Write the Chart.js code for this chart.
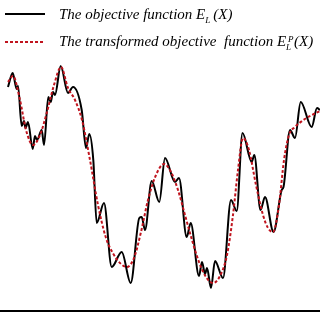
<!DOCTYPE html>
<html>
<head>
<meta charset="utf-8">
<script src="https://cdn.jsdelivr.net/npm/chart.js@4.4.1/dist/chart.umd.min.js"></script>
<style>
html,body{margin:0;padding:0;background:#fff;}
#wrap{position:relative;width:320px;height:320px;overflow:hidden;background:#fff;}
#c{position:absolute;left:0;top:0;}
.leg{position:absolute;left:59px;font-family:"Liberation Serif","DejaVu Serif",serif;font-style:italic;font-size:15px;line-height:1;white-space:nowrap;color:#000;}
.sw{position:absolute;left:5px;width:40px;}
.ss{display:inline-block;vertical-align:middle;position:relative;width:8px;height:1em;font-size:10px;}
.ss .lo{position:absolute;left:0;bottom:-4px;font-size:9px;}
.ss .hi{position:absolute;left:2px;top:-3px;font-size:9px;}
</style>
</head>
<body>
<div id="wrap">
<canvas id="c" width="320" height="320"></canvas>
<div class="sw" style="top:13px;height:2px;background:#000;"></div>
<div class="sw" style="top:41px;height:2px;background:repeating-linear-gradient(90deg,#c0141e 0 3px,transparent 3px 5px);"></div>
<div class="leg" id="l1" style="top:7px;">The objective function E<span class="ss"><span class="lo">L</span></span>(X)</div>
<div class="leg" id="l2" style="top:34px;">The transformed objective&nbsp; function E<span class="ss"><span class="hi">P</span><span class="lo">L</span></span>(X)</div>
</div>
<script>
// Objective function E_L(X): positions along X and values
const objectiveX = [8,12.7,16.7,18,21.7,24,25.5,28,32.7,35,37,41.7,44,48.3,50.7,53,55,60.7,68,73,81.7,86,89.3,93.3,96.7,104,111.7,121.7,130.7,139.3,141.7,145,151.7,159.3,165,175,179,186.7,190.7,199,202,205,207,211,215,223,231,236.7,242.5,251.7,254.3,260.5,265,273.5,281.7,283.5,290,295,300.7,311.7,317,320];
const objectiveY = [224,238,222,225,185,190,183,189,162,175,171,181,166,214,209,219,216,245,218,224,201,163,177,151,88,108,44,59,28,93,94,81,130,109,153,129,133,74,88,35,49,37,43,23,50,33,111,100,178,149,156,101,114,79,121,124,181,173,209,184,203,201];

// Transformed objective function E_L^P(X)
const transformedX = [8,13,20,26,33,40,47,54,61,68,75,82,90,98,106,114,121,127,134,141,148,156,164,171,178,185,192,199,206,213,220,227,233,238,243,249,256,263,268,273,279,284,289,295,302,310,320];
const transformedY = [229,235,211,181,166,176,199,226,244,223,211,191,151,106,73,56,47,44,53,79,111,136,147,139,121,96,71,49,34,28,35,56,96,141,173,161,126,96,83,79,106,151,176,184,190,195,200];

const xMin = 0, xMax = 320, yMin = 0, yMax = 311;

function pts(xs, ys){ return xs.map((x,i)=>({x:x, y:ys[i]})); }

new Chart(document.getElementById('c'), {
  type: 'line',
  data: {
    datasets: [
      {
        label: 'The transformed objective function',
        data: pts(transformedX, transformedY),
        borderColor: '#c0141e',
        borderWidth: 2,
        borderDash: [3,2],
        pointRadius: 0,
        cubicInterpolationMode: 'monotone',
        fill: false
      },
      {
        label: 'The objective function',
        data: pts(objectiveX, objectiveY),
        borderColor: '#000',
        borderWidth: 2,
        pointRadius: 0,
        cubicInterpolationMode: 'monotone',
        fill: false
      }
    ]
  },
  options: {
    responsive: false,
    animation: false,
    layout: { padding: { top: 0, left: 0, right: 0, bottom: 9 } },
    plugins: { legend: { display: false }, tooltip: { enabled: false } },
    scales: {
      x: {
        type: 'linear', min: xMin, max: xMax,
        grid: { display: false, drawTicks: false },
        ticks: { display: false },
        border: { display: true, width: 2, color: '#000' }
      },
      y: {
        type: 'linear', min: yMin, max: yMax,
        display: false
      }
    }
  }
});
</script>
</body>
</html>
